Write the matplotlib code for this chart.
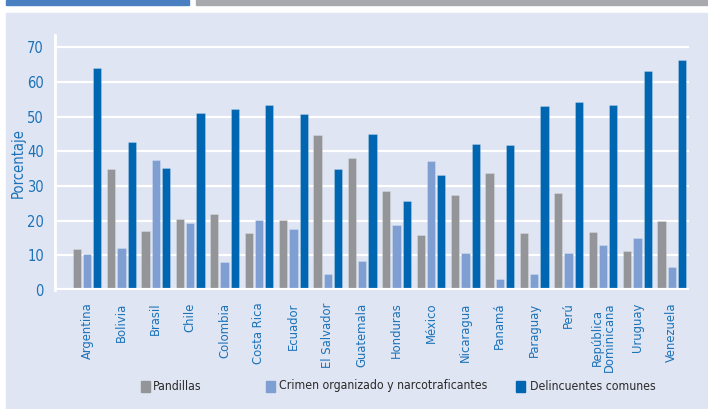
import matplotlib
matplotlib.use("Agg")
import matplotlib.pyplot as plt
from matplotlib.patches import Rectangle
import numpy as np

# data
PAISES = ["Argentina", "Bolivia", "Brasil", "Chile", "Colombia", "Costa Rica",
          "Ecuador", "El Salvador", "Guatemala", "Honduras", "México",
          "Nicaragua", "Panamá", "Paraguay", "Perú", "República\nDominicana",
          "Uruguay", "Venezuela"]
PANDILLAS = [11.9, 34.9, 16.9, 20.4, 22.0, 16.5, 20.2, 44.7, 38.1, 28.5, 16.0,
             27.4, 33.9, 16.4, 28.1, 16.8, 11.2, 19.8]
CRIMEN = [10.4, 12.2, 37.5, 19.3, 8.1, 20.2, 17.6, 4.7, 8.3, 18.9, 37.1,
          10.8, 3.3, 4.6, 10.7, 13.1, 15.0, 6.5]
DELINCUENTES = [64.2, 42.8, 35.1, 51.2, 52.1, 53.3, 50.8, 34.8, 45.0, 25.7, 33.3,
                42.2, 41.8, 53.0, 54.3, 53.5, 63.3, 66.4]
SERIES = ["Pandillas", "Crimen organizado y narcotraficantes", "Delincuentes comunes"]
COLORES = ["#949598", "#7f9fd3", "#0066b2"]

BG = "#dfe5f2"
TXT_BLUE = "#1b72b9"

plt.rcParams["font.family"] = ["DejaVu Sans"]
plt.rcParams["font.stretch"] = "condensed"

W, H = 708, 409
fig = plt.figure(figsize=(W / 100, H / 100), dpi=100, facecolor="white")

# panel background and top header strips
fig.patches.append(Rectangle((6 / W, 0), 1 - 6 / W, 1 - 13 / H,
                             transform=fig.transFigure, color=BG, zorder=-10))
fig.patches.append(Rectangle((5.5 / W, 1 - 4.5 / H), (189 - 5.5) / W, 4.5 / H,
                             transform=fig.transFigure, color="#4a7fc1", zorder=-10))
fig.patches.append(Rectangle((196 / W, 1 - 4.5 / H), (708 - 196) / W, 4.5 / H,
                             transform=fig.transFigure, color="#a7a9ac", zorder=-10))

ax = fig.add_axes([55 / W, 1 - 290 / H, (689 - 55) / W, (290 - 35) / H])
ax.set_facecolor(BG)

x = np.arange(len(PAISES))
width = 0.24
step = 0.30
for k, (vals, col) in enumerate(zip([PANDILLAS, CRIMEN, DELINCUENTES], COLORES)):
    ax.bar(x + (k - 1) * step, vals, width, color=col, zorder=3,
           edgecolor="#ffffff40", linewidth=0.6)

ax.set_xlim(-0.93, 17.5)
ax.set_ylim(0, 73.6)
ax.set_yticks(range(0, 71, 10))
ax.grid(axis="y", color="white", linewidth=1.6, zorder=1)
ax.axhline(0, color="white", linewidth=3, zorder=4)

for s in ["top", "right", "bottom"]:
    ax.spines[s].set_visible(False)
ax.spines["left"].set_color("white")
ax.spines["left"].set_linewidth(2)

ax.set_xticks(x)
ax.set_xticklabels(PAISES, rotation=90, color=TXT_BLUE, fontsize=9.3,
                   linespacing=0.9)
ax.tick_params(axis="x", length=0, pad=9)
ax.tick_params(axis="y", length=0, pad=8, labelcolor=TXT_BLUE, labelsize=10.5)
ax.set_ylabel("Porcentaje", color=TXT_BLUE, fontsize=10.5, labelpad=1)

# legend entries placed like the reference
marker_x = [141, 266, 516]
text_x = [153, 279, 530]
ly = 386
for mx, tx, lab, col in zip(marker_x, text_x, SERIES, COLORES):
    fig.patches.append(Rectangle((mx / W, 1 - (ly + 5.5) / H), 9 / W, 11 / H,
                                 transform=fig.transFigure, color=col))
    fig.text(tx / W, 1 - ly / H, lab, fontsize=8.8, color="#2b2a2b",
             ha="left", va="center")

fig.savefig("out.png", dpi=100, facecolor="white")
